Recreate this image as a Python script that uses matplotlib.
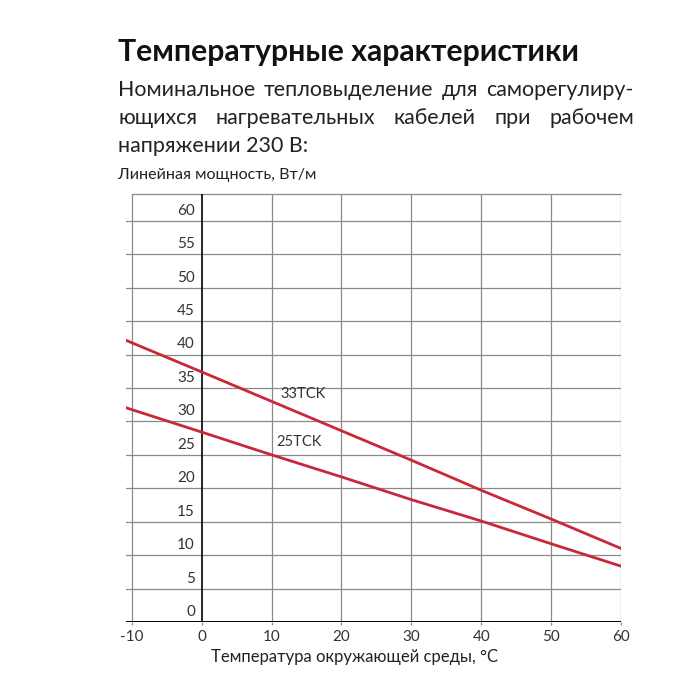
import matplotlib
matplotlib.use("Agg")
import matplotlib.pyplot as plt
import numpy as np

plt.rcParams["font.family"] = ["Lato", "DejaVu Sans"]

# data
temp = np.array([-11, 0, 10, 20, 30, 40, 50, 60])
p_33tck = np.array([42.2, 37.4, 33.0, 28.6, 24.2, 19.7, 15.4, 11.0])
p_25tck = np.array([32.1, 28.4, 25.0, 21.7, 18.3, 15.1, 11.7, 8.35])

x_ticks = [-10, 0, 10, 20, 30, 40, 50, 60]
y_ticks = [0, 5, 10, 15, 20, 25, 30, 35, 40, 45, 50, 55, 60]

title = "Температурные характеристики"
sub_lines = [
    "Номинальное тепловыделение для саморегулиру-",
    "ющихся нагревательных кабелей при рабочем",
    "напряжении 230 В:",
]
y_title = "Линейная мощность, Вт/м"
x_title = "Температура окружающей среды, °C"

red = "#c9283a"
grid_c = "#8a8a8a"
txt_c = "#333333"

W, H = 697, 680
fig = plt.figure(figsize=(W / 100, H / 100), dpi=100)
ax = fig.add_axes([125.7 / W, 1 - 622 / H, (621 - 125.7) / W, (622 - 194) / H])

ax.set_xlim(-10.86, 60)
ax.set_ylim(0, 64)

# grid
for v in y_ticks[1:]:
    ax.axhline(v, color=grid_c, lw=0.9, zorder=1)
ax.hlines(64, -10, 60, color=grid_c, lw=0.9, zorder=1, clip_on=False)
for v in x_ticks:
    if v != 0:
        ax.axvline(v, color=grid_c, lw=0.9, zorder=1)
ax.axvline(0, color="black", lw=1.2, zorder=2)
ax.axhline(0, color="black", lw=1.4, zorder=2)

for s in ax.spines.values():
    s.set_visible(False)
ax.set_yticks([])
ax.set_xticks(x_ticks)
ax.set_xticklabels([str(v) for v in x_ticks], fontsize=11, color=txt_c)
ax.tick_params(axis="x", length=2, width=0.9, color=grid_c, pad=4)

# y labels sit inside the plot, just above their grid lines
for v in y_ticks:
    ax.text(-0.95, v + 1.5, str(v), ha="right", va="center",
            fontsize=11, color=txt_c)

ax.plot(temp, p_33tck, color=red, lw=2, zorder=3)
ax.plot(temp, p_25tck, color=red, lw=2, zorder=3)
ax.text(11.26, 34.1, "33TCK", fontsize=10.5, color=txt_c, va="center")
ax.text(10.64, 26.9, "25TCK", fontsize=10.5, color=txt_c, va="center")

fig.text(355 / W, 1 - 662 / H, x_title, ha="center", va="baseline",
         fontsize=12, color="#222222")

fig.text(118 / W, 1 - 60.7 / H, title, ha="left", va="baseline",
         fontsize=21.7, fontweight="bold", color="#111111")

# justified paragraph
x0, x1 = 118, 634
baselines = [96, 124.5, 152]
renderer = fig.canvas.get_renderer()
for i, line in enumerate(sub_lines):
    y = 1 - baselines[i] / H
    if i == len(sub_lines) - 1:
        fig.text(x0 / W, y, line, ha="left", va="baseline",
                 fontsize=15.4, color="#222222")
        continue
    words = line.split()
    items = [fig.text(0, y, w, ha="left", va="baseline", fontsize=15.4,
                      color="#222222") for w in words]
    widths = [t.get_window_extent(renderer).width for t in items]
    gap = (x1 - x0 - sum(widths)) / (len(words) - 1)
    pos = x0
    for t, w in zip(items, widths):
        t.set_x(pos / W)
        pos += w + gap

fig.text(118 / W, 1 - 179 / H, y_title, ha="left", va="baseline",
         fontsize=11.6, color="#222222")

fig.savefig("out.png", dpi=100)
